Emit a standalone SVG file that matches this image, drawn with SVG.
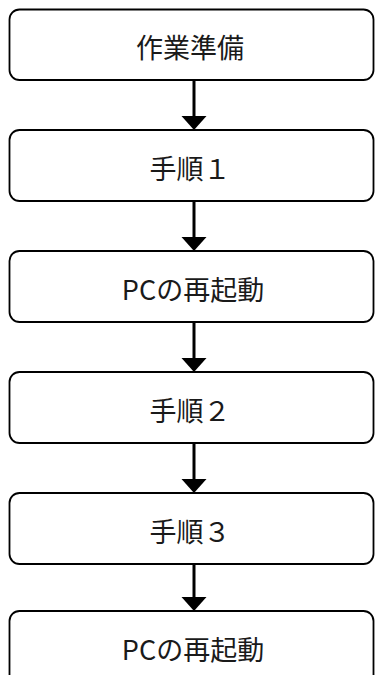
<svg xmlns="http://www.w3.org/2000/svg" width="375" height="675" viewBox="0 0 375 675">
<style>
.box{fill:#fff;stroke:#000;stroke-width:1.8}
.lbl{font-family:"Noto Sans CJK JP","Noto Sans CJK SC",sans-serif;font-size:27px;fill:#1a1a1a;text-anchor:middle}
.ln{stroke:#000;stroke-width:3;fill:none}
.ah{fill:#000}
</style>
<rect width="375" height="675" fill="#fff"/>
<g id="connectors">
<line class="ln" x1="194" y1="80" x2="194" y2="117"/>
<polygon class="ah" points="181.5,116 206.5,116 194,130"/>
<line class="ln" x1="194" y1="201" x2="194" y2="238"/>
<polygon class="ah" points="181.5,237 206.5,237 194,251"/>
<line class="ln" x1="194" y1="322" x2="194" y2="359"/>
<polygon class="ah" points="181.5,358 206.5,358 194,372"/>
<line class="ln" x1="194" y1="443" x2="194" y2="480"/>
<polygon class="ah" points="181.5,479 206.5,479 194,493"/>
<line class="ln" x1="194" y1="564" x2="194" y2="598"/>
<polygon class="ah" points="181.5,597 206.5,597 194,611"/>
</g>
<g id="n1"><rect class="box" x="9.5" y="9.5" width="364" height="70.5" rx="10"/><text class="lbl" x="190" y="58">作業準備</text></g>
<g id="n2"><rect class="box" x="9.5" y="130" width="364" height="71" rx="10"/><text class="lbl" x="190" y="179">手順１</text></g>
<g id="n3"><rect class="box" x="9.5" y="251" width="364" height="71" rx="10"/><text class="lbl" x="193" y="300">PCの再起動</text></g>
<g id="n4"><rect class="box" x="9.5" y="372" width="364" height="71" rx="10"/><text class="lbl" x="190" y="421">手順２</text></g>
<g id="n5"><rect class="box" x="9.5" y="493" width="364" height="71" rx="10"/><text class="lbl" x="190" y="542">手順３</text></g>
<g id="n6"><rect class="box" x="9.5" y="611" width="364" height="80" rx="10"/><text class="lbl" x="193" y="660">PCの再起動</text></g>
</svg>
